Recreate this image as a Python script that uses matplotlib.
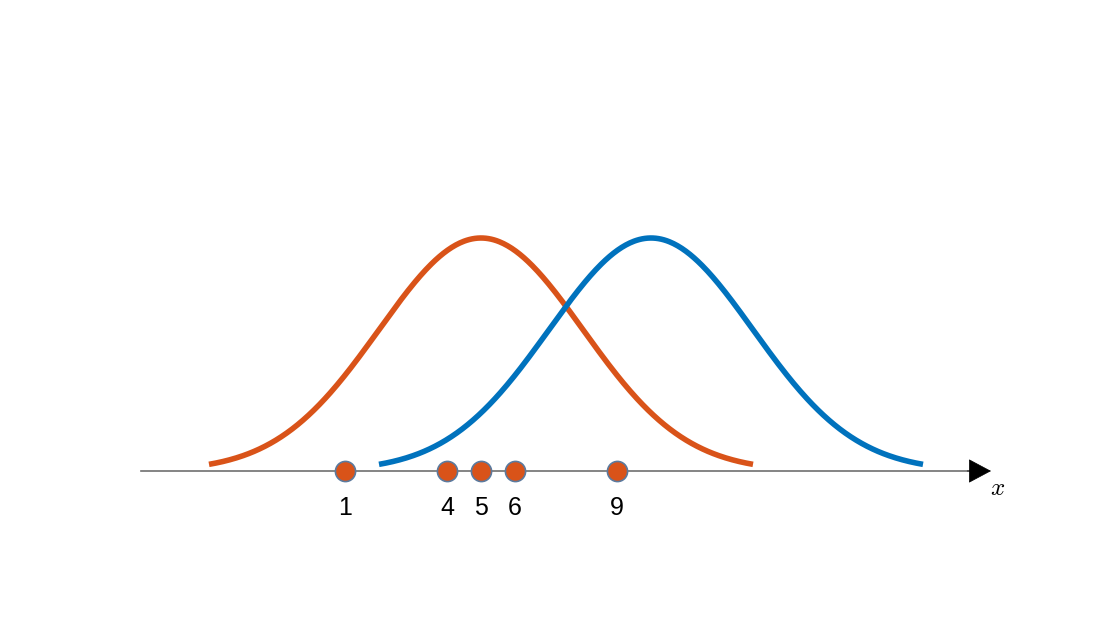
import matplotlib

matplotlib.use("Agg")
import matplotlib.pyplot as plt
import numpy as np

# samples on the x axis and the two candidate gaussians
samples = [1, 4, 5, 6, 9]
sample_labels = ["1", "4", "5", "6", "9"]
orange_mu, orange_range = 5, (-3, 13)
blue_mu, blue_range = 10, (2, 18)
sigma = 3
axis_range = (-5, 20)

ORANGE = "#D95319"
BLUE = "#0072BD"


def gauss(x, mu, s):
    return np.exp(-((x - mu) ** 2) / (2 * s ** 2))


def main() -> None:
    plt.rcParams["font.family"] = ["Liberation Sans", "DejaVu Sans"]
    plt.rcParams["mathtext.fontset"] = "cm"
    fig = plt.figure(figsize=(10.94, 6.25), dpi=100)
    ax = fig.add_axes([0, 0, 1, 1])
    ax.set_xlim(-311 / 34, (1094 - 311) / 34)
    ax.set_ylim(-(625 - 471) / 233, 471 / 233)
    ax.axis("off")

    # x axis with arrow head
    ax.plot([axis_range[0], axis_range[1] - 0.6], [0, 0], color="#707070",
            linewidth=1.2, zorder=1)
    ax.annotate("", xy=(axis_range[1], 0), xytext=(axis_range[1] - 0.7, 0),
                arrowprops=dict(arrowstyle="-|>,head_length=0.75,head_width=0.4",
                                color="black", mutation_scale=20,
                                shrinkA=0, shrinkB=0, linewidth=0.5),
                zorder=3)
    ax.text(axis_range[1] + 0.2, -0.075, "$x$", fontsize=18, ha="center",
            va="center")

    xo = np.linspace(*orange_range, 400)
    ax.plot(xo, gauss(xo, orange_mu, sigma), color=ORANGE, linewidth=4.0,
            solid_capstyle="butt", zorder=2)
    xb = np.linspace(*blue_range, 400)
    ax.plot(xb, gauss(xb, blue_mu, sigma), color=BLUE, linewidth=4.0,
            solid_capstyle="butt", zorder=2)

    ax.plot(samples, np.zeros(len(samples)), "o", markersize=14.5,
            markerfacecolor=ORANGE, markeredgecolor="#5B7A9E",
            markeredgewidth=1.2, zorder=4)
    for xs, lab in zip(samples, sample_labels):
        ax.text(xs, -0.16, lab, fontsize=18, ha="center", va="center")

    fig.savefig("out.png", dpi=100)
    plt.close(fig)


if __name__ == "__main__":
    main()
